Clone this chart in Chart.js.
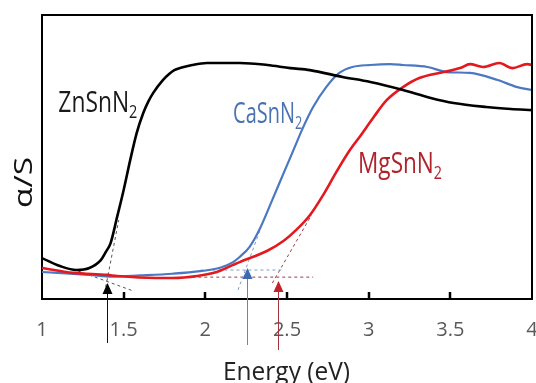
<!DOCTYPE html>
<html>
<head>
<meta charset="utf-8">
<script src="https://cdn.jsdelivr.net/npm/chart.js@4.4.0/dist/chart.umd.min.js"></script>
<style>
  html, body { margin: 0; padding: 0; background: #fff; }
</style>
</head>
<body>
<canvas id="myChart" width="536" height="383"></canvas>
<script>
// photon energy (eV) vs alpha/S (arbitrary units, 0-100)
const znEnergy = [1.00, 1.11, 1.21, 1.29, 1.36, 1.39, 1.42, 1.46, 1.50, 1.54, 1.58, 1.62, 1.65, 1.68, 1.74, 1.78, 1.81, 1.85, 1.92, 2.01, 2.09, 2.21, 2.38, 2.52, 2.64, 2.84, 3.01, 3.21, 3.38, 3.52, 3.72, 3.87, 4.00];
const znSignal = [14.4, 11.6, 10.2, 10.9, 13.7, 16.5, 19.7, 28.9, 38.4, 48.9, 58.5, 65.5, 69.4, 72.5, 77.1, 79.3, 80.6, 81.4, 82.4, 83.1, 83.1, 83.1, 82.4, 81.3, 80.6, 78.2, 76.4, 73.6, 70.8, 69.0, 67.6, 66.9, 66.5];

const caEnergy = [1.00, 1.29, 1.43, 1.60, 1.80, 1.97, 2.09, 2.17, 2.21, 2.27, 2.33, 2.41, 2.48, 2.54, 2.60, 2.66, 2.74, 2.82, 2.90, 3.01, 3.13, 3.21, 3.36, 3.48, 3.62, 3.79, 3.91, 4.00];
const caSignal = [9.5, 8.5, 7.9, 8.3, 8.9, 9.8, 11.0, 13.0, 14.8, 18.3, 24.3, 34.9, 44.4, 52.5, 60.6, 67.6, 74.6, 79.6, 81.7, 82.4, 82.7, 82.4, 81.7, 79.9, 79.6, 77.1, 74.6, 73.6];

const mgEnergy = [1.00, 1.19, 1.40, 1.46, 1.70, 1.80, 1.95, 2.07, 2.17, 2.21, 2.38, 2.48, 2.56, 2.64, 2.72, 2.80, 2.88, 2.95, 3.03, 3.11, 3.21, 3.31, 3.46, 3.56, 3.62, 3.70, 3.80, 3.88, 3.97, 4.00];
const mgSignal = [10.9, 9.2, 8.5, 8.1, 7.4, 7.4, 8.1, 9.5, 12.0, 13.0, 17.0, 20.5, 24.5, 29.5, 36.5, 44.5, 52.0, 57.5, 64.0, 70.0, 74.6, 77.8, 79.9, 81.3, 82.7, 81.7, 83.1, 81.3, 82.7, 82.4];

// band-gap extrapolation lines: [x0, x1], [y0, y1]
const znEdgeX = [1.39, 1.47], znEdgeY = [4.2, 27.8];
const znBaseX = [1.22, 1.56], znBaseY = [9.9, 2.8];
const caEdgeX = [2.20, 2.34], caEdgeY = [3.2, 25.0];
const caBaseX = [1.97, 2.48], caBaseY = [10.2, 10.2];
const mgEdgeX = [2.41, 2.65], mgEdgeY = [5.6, 29.6];
const mgBaseX = [1.92, 2.66], mgBaseY = [7.7, 7.7];

// band gaps marked with arrows
const gapEnergy = [1.40, 2.255, 2.445];
const gapLevel = [5.6, 10.9, 6.3];

const xTickLabels = ['1', '1.5', '2', '2.5', '3', '3.5', '4'];

const pts = (xs, ys) => xs.map((v, i) => ({x: v, y: ys[i]}));

function squeezed(ctx, parts, x, y, width, color) {
    let total = 0;
    parts.forEach(p => { ctx.font = p.size + 'px "Open Sans"'; total += ctx.measureText(p.text).width; });
    const k = width / total;
    ctx.save();
    ctx.fillStyle = color;
    ctx.textBaseline = 'alphabetic';
    ctx.translate(x, y);
    ctx.scale(k, 1);
    let cx = 0;
    parts.forEach(p => {
        ctx.font = p.size + 'px "Open Sans"';
        ctx.fillText(p.text, cx, p.dy || 0);
        cx += ctx.measureText(p.text).width;
    });
    ctx.restore();
}

const annotations = {
    id: 'annotations',
    afterDraw(chart) {
        const {ctx, chartArea: a, scales: {x, y}} = chart;
        ctx.save();
        // top and right of the frame
        ctx.strokeStyle = '#000';
        ctx.lineWidth = 2;
        ctx.beginPath();
        ctx.moveTo(a.left, a.top);
        ctx.lineTo(a.right, a.top);
        ctx.lineTo(a.right, a.bottom);
        ctx.stroke();

        // inward tick marks on the energy axis
        ctx.strokeStyle = '#000';
        ctx.lineWidth = 2.5;
        ctx.beginPath();
        for (let v = 1.5; v < 4; v += 0.5) {
            const px = Math.round(x.getPixelForValue(v));
            ctx.moveTo(px, a.bottom + 1);
            ctx.lineTo(px, a.bottom - 7);
        }
        ctx.stroke();

        // arrows
        const lineCol = ['#111', '#6f84a6', '#a3333f'];
        const headCol = ['#000', '#3f69b2', '#c2202b'];
        const tail = [44, 46, 51];
        gapEnergy.forEach((e, i) => {
            const px = Math.round(x.getPixelForValue(e)) + 0.5;
            const tip = y.getPixelForValue(gapLevel[i]);
            ctx.strokeStyle = lineCol[i];
            ctx.lineWidth = 1;
            ctx.beginPath();
            ctx.moveTo(px, tip + 9);
            ctx.lineTo(px, a.bottom + tail[i]);
            ctx.stroke();
            ctx.fillStyle = headCol[i];
            ctx.beginPath();
            ctx.moveTo(px, tip);
            ctx.lineTo(px - 5, tip + 11);
            ctx.lineTo(px + 5, tip + 11);
            ctx.closePath();
            ctx.fill();
        });

        // series labels
        squeezed(ctx, [{text: 'ZnSnN', size: 30}, {text: '2', size: 19, dy: 6}],
            x.getPixelForValue(1.10), y.getPixelForValue(65.8), 79, '#1a1a1a');
        squeezed(ctx, [{text: 'CaSnN', size: 30}, {text: '2', size: 19, dy: 6}],
            x.getPixelForValue(2.17), y.getPixelForValue(62.0), 69, '#4a72b0');
        squeezed(ctx, [{text: 'MgSnN', size: 30}, {text: '2', size: 19, dy: 6}],
            x.getPixelForValue(2.935), y.getPixelForValue(44.4), 84, '#b0232b');

        // axis titles
        squeezed(ctx, [{text: 'Energy (eV)', size: 25}], 223, 380, 127, '#222');
        ctx.save();
        ctx.translate(32, 208);
        ctx.rotate(-Math.PI / 2);
        squeezed(ctx, [{text: 'α/S', size: 25}], 0, 0, 51, '#111');
        ctx.restore();
        ctx.restore();
    }
};

const dashed = (data, color) => ({
    data, borderColor: color, borderWidth: 1, borderDash: [3, 3],
    pointRadius: 0, tension: 0, fill: false
});

const ctx = document.getElementById('myChart');
new Chart(ctx, {
    type: 'line',
    data: {
        datasets: [
            {label: 'ZnSnN2', data: pts(znEnergy, znSignal), borderColor: '#000', borderWidth: 2.6},
            {label: 'MgSnN2', data: pts(mgEnergy, mgSignal), borderColor: '#e3191f', borderWidth: 2.6},
            {label: 'CaSnN2', data: pts(caEnergy, caSignal), borderColor: '#4a78c2', borderWidth: 2.2},
            dashed(pts(znEdgeX, znEdgeY), '#555'),
            dashed(pts(znBaseX, znBaseY), '#555'),
            dashed(pts(caEdgeX, caEdgeY), '#7f9cc4'),
            dashed(pts(caBaseX, caBaseY), '#7f9cc4'),
            dashed(pts(mgEdgeX, mgEdgeY), '#9b3a48'),
            dashed(pts(mgBaseX, mgBaseY), '#9b3a48')
        ]
    },
    options: {
        responsive: false,
        animation: false,
        layout: {padding: {top: 15, right: 4, left: 0, bottom: 0}},
        datasets: {
            line: {pointRadius: 0, cubicInterpolationMode: 'monotone', fill: false}
        },
        plugins: {legend: {display: false}, tooltip: {enabled: false}},
        scales: {
            x: {
                type: 'linear',
                min: 1,
                max: 4,
                afterFit: s => { s.height = 84; s.paddingLeft = 0; s.paddingRight = 0; },
                border: {color: '#000', width: 2},
                grid: {drawOnChartArea: false, drawTicks: false},
                ticks: {
                    stepSize: 0.5,
                    padding: 19,
                    color: '#595959',
                    font: {family: 'Open Sans', size: 20},
                    callback: (v, i) => xTickLabels[i]
                }
            },
            y: {
                type: 'linear',
                min: 0,
                max: 100,
                afterFit: s => { s.width = 42; },
                border: {color: '#000', width: 2},
                grid: {drawOnChartArea: false, drawTicks: false},
                ticks: {display: false}
            }
        }
    },
    plugins: [annotations]
});
</script>
</body>
</html>
